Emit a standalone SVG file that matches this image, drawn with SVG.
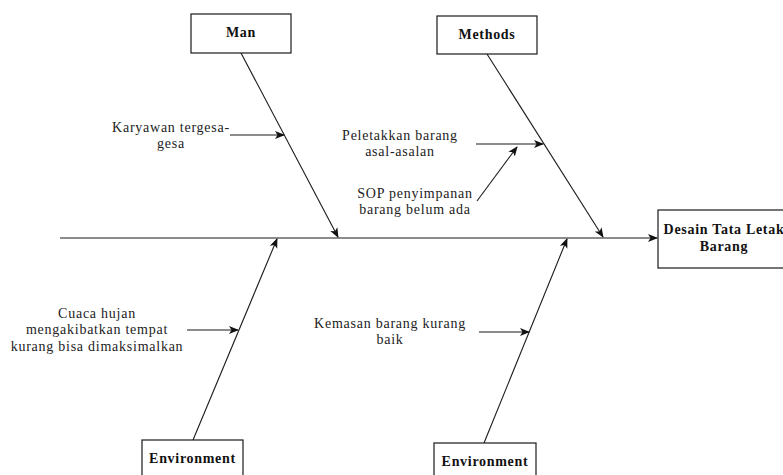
<svg xmlns="http://www.w3.org/2000/svg" width="783" height="475" viewBox="0 0 783 475">
  <style>
    .box { fill: #ffffff; stroke: #1a1a1a; stroke-width: 1.2; }
    .title { font-family: "Liberation Serif", "Times New Roman", serif; font-size: 14px; font-weight: bold; letter-spacing: 0.7px; fill: #111; text-anchor: middle; }
    .label { font-family: "Liberation Serif", "Times New Roman", serif; font-size: 14px; letter-spacing: 0.75px; fill: #222; text-anchor: middle; }
    .edge { fill: none; stroke: #1a1a1a; stroke-width: 1.1; marker-end: url(#arrow); }
  </style>
  <defs>
    <marker id="arrow" viewBox="0 0 10 10" refX="9" refY="5" markerWidth="10" markerHeight="10" markerUnits="userSpaceOnUse" orient="auto">
      <path d="M0,1 L10,5 L0,9 L2.5,5 Z" fill="#111"/>
    </marker>
  </defs>
  <rect width="783" height="475" fill="#ffffff"/>

  <g id="connectors">
    <!-- main spine -->
    <line class="edge" x1="60" y1="238" x2="657" y2="238"/>
    <!-- category bones -->
    <line class="edge" x1="241" y1="53" x2="338" y2="237"/>
    <line class="edge" x1="487" y1="54" x2="603" y2="237"/>
    <line class="edge" x1="193" y1="440" x2="277" y2="239"/>
    <line class="edge" x1="484" y1="443" x2="567" y2="239"/>
    <!-- cause arrows -->
    <line class="edge" x1="230" y1="135" x2="284" y2="135"/>
    <line class="edge" x1="476" y1="144" x2="543" y2="144"/>
    <line class="edge" x1="477" y1="201" x2="517" y2="147"/>
    <line class="edge" x1="187" y1="330" x2="238" y2="330"/>
    <line class="edge" x1="479" y1="332" x2="529" y2="332"/>
  </g>

  <g id="man">
    <rect class="box" x="191" y="14" width="100" height="39"/>
    <text class="title" x="241" y="37">Man</text>
  </g>
  <g id="methods">
    <rect class="box" x="437" y="16" width="100" height="38"/>
    <text class="title" x="487" y="39">Methods</text>
  </g>
  <g id="effect">
    <rect class="box" x="658" y="210" width="132" height="58"/>
    <text class="title" x="724" y="234">Desain Tata Letak</text>
    <text class="title" x="724" y="251">Barang</text>
  </g>
  <g id="environment-left">
    <rect class="box" x="142" y="440" width="101" height="42"/>
    <text class="title" x="192.5" y="463">Environment</text>
  </g>
  <g id="environment-right">
    <rect class="box" x="434" y="443" width="102" height="42"/>
    <text class="title" x="485" y="466">Environment</text>
  </g>

  <g id="cause-karyawan">
    <text class="label" x="171" y="132">Karyawan tergesa-</text>
    <text class="label" x="171" y="148">gesa</text>
  </g>
  <g id="cause-peletakkan">
    <text class="label" x="400" y="140">Peletakkan barang</text>
    <text class="label" x="400" y="156">asal-asalan</text>
  </g>
  <g id="cause-sop">
    <text class="label" x="415" y="198">SOP penyimpanan</text>
    <text class="label" x="415" y="214">barang belum ada</text>
  </g>
  <g id="cause-cuaca">
    <text class="label" x="97" y="318">Cuaca hujan</text>
    <text class="label" x="97" y="334">mengakibatkan tempat</text>
    <text class="label" x="97" y="351">kurang bisa dimaksimalkan</text>
  </g>
  <g id="cause-kemasan">
    <text class="label" x="390" y="328">Kemasan barang kurang</text>
    <text class="label" x="390" y="344">baik</text>
  </g>
</svg>
